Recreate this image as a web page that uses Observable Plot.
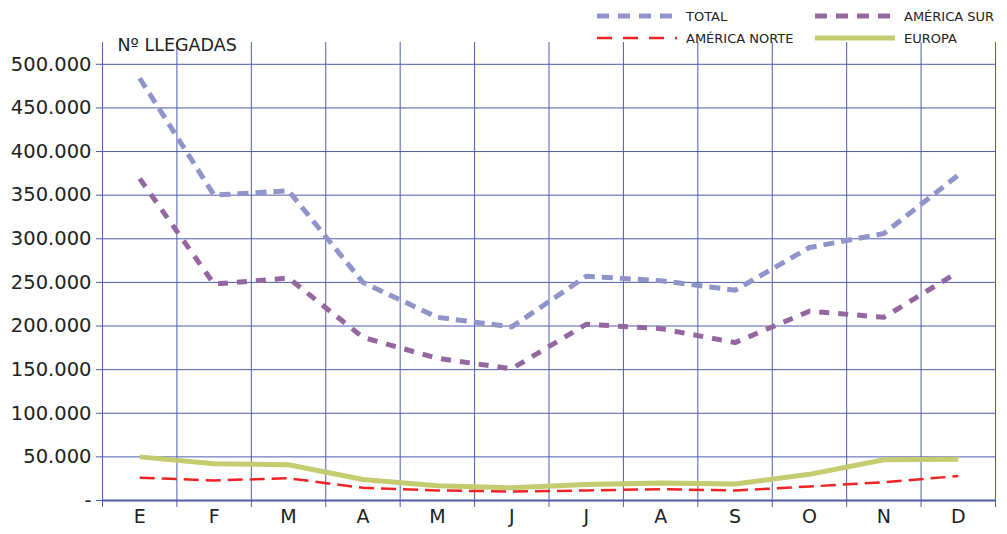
<!DOCTYPE html>
<html>
<head>
<meta charset="utf-8">
<script src="https://cdn.jsdelivr.net/npm/d3@7"></script>
<script src="https://cdn.jsdelivr.net/npm/@observablehq/plot@0.6"></script>
<style>
  html, body { margin: 0; padding: 0; background: #fff; }
  #wrap { position: relative; width: 1007px; height: 534px; font-family: "DejaVu Sans", sans-serif; }
  .leg { position: absolute; display: flex; align-items: center; font-size: 13px; color: #222; }
  .leg svg { margin-right: 9px; }
</style>
</head>
<body>
<div id="wrap"></div>
<script>
const months = ["E","F","M","A","M","J","J","A","S","O","N","D"];
const total        = [484000,350000,355000,250000,210000,199000,257000,252000,241000,290000,306000,373000];
const americaSur   = [369000,248000,255000,187000,163000,151000,202000,197000,181000,217000,210000,262000];
const americaNorte = [26000,23000,25500,14500,11500,10300,11500,13000,11500,16000,21000,28000];
const europa       = [50000,42000,41000,24000,17000,14500,18300,20000,19000,30000,46700,47400];
const yTicks = [0,50000,100000,150000,200000,250000,300000,350000,400000,450000,500000];
const title = "Nº LLEGADAS";

const series = [
  {name: "TOTAL", values: total, color: "#8f94c9", width: 5, dash: "11,7"},
  {name: "AMÉRICA SUR", values: americaSur, color: "#9467a0", width: 5, dash: "10,9"},
  {name: "AMÉRICA NORTE", values: americaNorte, color: "#ee2424", width: 2.5, dash: "15,7"},
  {name: "EUROPA", values: europa, color: "#c5cb6f", width: 5, dash: null}
];

const grid = "#4d5bae";
const fmt = d => d === 0 ? "-" : d3.format(",")(d).replace(/,/g, ".");

const lineMarks = [europa, americaNorte, americaSur, total].map(vals => {
  const s = series.find(s => s.values === vals);
  const rows = vals.map((v, i) => ({i: i + 0.5, v}));
  return Plot.line(rows, {x: "i", y: "v", stroke: s.color, strokeWidth: s.width,
    strokeDasharray: s.dash, strokeLinecap: "butt", strokeLinejoin: "round", curve: "linear"});
});

const chart = Plot.plot({
  width: 1007,
  height: 534,
  marginLeft: 102,
  marginRight: 12,
  marginTop: 42,
  marginBottom: 34,
  style: {fontFamily: "DejaVu Sans, sans-serif", fontSize: "19px", color: "#222", background: "#fff"},
  x: {type: "linear", domain: [0, 12]},
  y: {domain: [0, 525000]},
  marks: [
    Plot.ruleY(yTicks, {stroke: grid, strokeWidth: 1}),
    Plot.ruleX(d3.range(13), {stroke: grid, strokeWidth: 1}),
    Plot.ruleY([0], {stroke: grid, strokeWidth: 2}),
    Plot.axisY({ticks: yTicks, tickSize: 6, tickPadding: 5, tickFormat: fmt, label: null,
      fontSize: 19.5, stroke: grid, fill: "#222"}),
    Plot.axisX({ticks: d3.range(13), tickSize: 7, tickFormat: () => "", label: null, stroke: grid}),
    Plot.axisX({ticks: months.map((m, i) => i + 0.5), tickSize: 0, tickPadding: 9,
      tickFormat: d => months[Math.floor(d)], label: null, fontSize: 19, fill: "#222"}),
    ...lineMarks,
    Plot.text([title], {frameAnchor: "top-left", dx: 15, dy: -4, lineAnchor: "top",
      fontSize: 17.5, fill: "#222", textAnchor: "start"})
  ]
});

const wrap = document.getElementById("wrap");
wrap.appendChild(chart);

const legPos = [
  {s: series[0], left: 597, top: 16},
  {s: series[1], left: 815, top: 16},
  {s: series[2], left: 597, top: 38},
  {s: series[3], left: 815, top: 38}
];
for (const {s, left, top} of legPos) {
  const div = document.createElement("div");
  div.className = "leg";
  div.style.left = left + "px";
  div.style.top = (top - 9) + "px";
  div.style.height = "18px";
  const ns = "http://www.w3.org/2000/svg";
  const svg = document.createElementNS(ns, "svg");
  svg.setAttribute("width", 80);
  svg.setAttribute("height", 18);
  const ln = document.createElementNS(ns, "line");
  ln.setAttribute("x1", 0); ln.setAttribute("x2", 80);
  ln.setAttribute("y1", 9); ln.setAttribute("y2", 9);
  ln.setAttribute("stroke", s.color);
  ln.setAttribute("stroke-width", s.width);
  if (s.dash) ln.setAttribute("stroke-dasharray", s.name === "AMÉRICA NORTE" ? "15,11" : "12,9");
  svg.appendChild(ln);
  div.appendChild(svg);
  const sp = document.createElement("span");
  sp.textContent = s.name;
  div.appendChild(sp);
  wrap.appendChild(div);
}
</script>
</body>
</html>
